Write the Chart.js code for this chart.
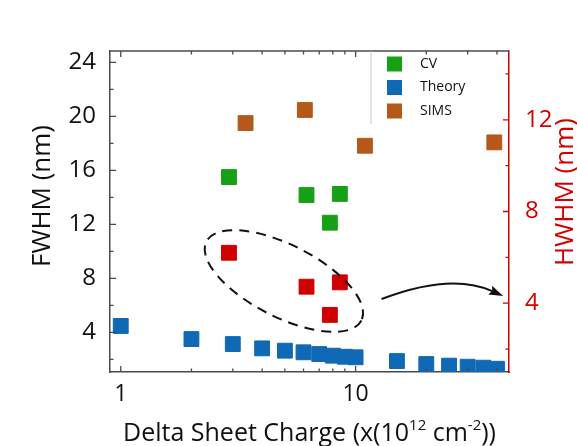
<!DOCTYPE html>
<html>
<head>
<meta charset="utf-8">
<script src="https://cdn.jsdelivr.net/npm/chart.js@4.4.1/dist/chart.umd.min.js"></script>
<style>
html, body { margin: 0; padding: 0; background: #fff; }
</style>
</head>
<body>
<canvas id="chart" width="577" height="446"></canvas>
<script>
// Delta sheet charge (x10^12 cm^-2) and widths (nm)
const theoryCharge = [1, 2, 3, 4, 5, 6, 7, 8, 9, 10, 15, 20, 25, 30, 35, 40];
const theoryFwhm = [4.47, 3.5, 3.13, 2.81, 2.64, 2.52, 2.39, 2.27, 2.19, 2.15, 1.87, 1.65, 1.53, 1.45, 1.38, 1.30];
const cvCharge = [2.89, 6.18, 8.57, 7.77];
const cvFwhm = [15.5, 14.17, 14.25, 12.12];
const cvHwhm = [6.2, 4.72, 4.91, 3.49];
const simsCharge = [3.40, 6.08, 10.96, 38.96];
const simsFwhm = [19.5, 20.47, 17.82, 18.07];

// tick labels
const xTickLabels = [1, 10];
const xMinorTicks = [2, 3, 4, 5, 6, 7, 8, 9, 20, 30, 40];
const fwhmTicks = [4, 8, 12, 16, 20, 24];
const hwhmTicks = [4, 8, 12];

const FONT = "'Open Sans', 'DejaVu Sans', sans-serif";
const AXIS_RED = '#d40000';
const AXIS_GREY = '#4a4a4a';

function toPoints(xs, ys) {
    return xs.map((x, i) => ({ x: x, y: ys[i] }));
}

// draws the inward ticks, the top frame line, titles, legend and the annotation
const decorPlugin = {
    id: 'decor',
    afterDatasetsDraw(chart) {
        const ctx = chart.ctx;
        const area = chart.chartArea;
        const x = chart.scales.x;
        const y = chart.scales.y;
        const y2 = chart.scales.y2;

        ctx.save();

        // dashed ellipse around the HWHM points
        const cx = x.getPixelForValue(4.95);
        const cy = y.getPixelForValue(7.8);
        ctx.beginPath();
        ctx.setLineDash([10, 7]);
        ctx.lineWidth = 2;
        ctx.strokeStyle = '#111';
        ctx.ellipse(cx, cy, 87, 36, 27 * Math.PI / 180, 0, Math.PI * 2);
        ctx.stroke();
        ctx.setLineDash([]);

        // curved arrow pointing at the HWHM axis
        const p0 = [x.getPixelForValue(12.9), y.getPixelForValue(6.47)];
        const c = [x.getPixelForValue(25.5), y.getPixelForValue(8.43)];
        const p2 = [x.getPixelForValue(42.5), y.getPixelForValue(6.69)];
        const ang = Math.atan2(p2[1] - c[1], p2[0] - c[0]);
        const headLen = 15;
        const base = [p2[0] - headLen * 0.8 * Math.cos(ang), p2[1] - headLen * 0.8 * Math.sin(ang)];
        ctx.beginPath();
        ctx.moveTo(p0[0], p0[1]);
        ctx.quadraticCurveTo(c[0], c[1], base[0], base[1]);
        ctx.lineWidth = 2;
        ctx.strokeStyle = '#111';
        ctx.stroke();
        ctx.beginPath();
        ctx.moveTo(p2[0], p2[1]);
        ctx.lineTo(p2[0] - headLen * Math.cos(ang - 0.32), p2[1] - headLen * Math.sin(ang - 0.32));
        ctx.lineTo(base[0], base[1]);
        ctx.lineTo(p2[0] - headLen * Math.cos(ang + 0.32), p2[1] - headLen * Math.sin(ang + 0.32));
        ctx.closePath();
        ctx.fillStyle = '#111';
        ctx.fill();

        // top frame line
        ctx.beginPath();
        ctx.lineWidth = 1.5;
        ctx.strokeStyle = AXIS_GREY;
        ctx.moveTo(area.left, area.top);
        ctx.lineTo(area.right, area.top);
        ctx.stroke();

        // inward tick marks
        const major = 6, minor = 3.5;
        ctx.lineWidth = 1.3;
        ctx.strokeStyle = AXIS_GREY;
        ctx.beginPath();
        xTickLabels.concat(xMinorTicks).forEach(v => {
            const len = xTickLabels.includes(v) ? major : minor;
            const px = x.getPixelForValue(v);
            ctx.moveTo(px, area.bottom);
            ctx.lineTo(px, area.bottom - len);
            ctx.moveTo(px, area.top);
            ctx.lineTo(px, area.top + len);
        });
        fwhmTicks.forEach(v => {
            [v, v - 2].forEach((t, k) => {
                const py = y.getPixelForValue(t);
                ctx.moveTo(area.left, py);
                ctx.lineTo(area.left + (k === 0 ? major : minor), py);
            });
        });
        ctx.stroke();

        ctx.strokeStyle = AXIS_RED;
        ctx.beginPath();
        hwhmTicks.concat([14]).forEach(v => {
            [v, v - 2].forEach((t, k) => {
                if (t > y2.max) return;
                const py = y2.getPixelForValue(t);
                const len = (k === 0 && hwhmTicks.includes(t)) ? major : minor;
                ctx.moveTo(area.right, py);
                ctx.lineTo(area.right - len, py);
            });
        });
        ctx.stroke();

        // axis titles
        ctx.fillStyle = '#111';
        ctx.textBaseline = 'middle';
        ctx.textAlign = 'center';
        ctx.font = '26px ' + FONT;
        ctx.save();
        ctx.translate(43, 196);
        ctx.rotate(-Math.PI / 2);
        ctx.fillText('FWHM (nm)', 0, 0);
        ctx.restore();

        ctx.fillStyle = AXIS_RED;
        ctx.save();
        ctx.translate(566, 192);
        ctx.rotate(-Math.PI / 2);
        ctx.fillText('HWHM (nm)', 0, 0);
        ctx.restore();

        // x title with superscripts
        const parts = [
            ['Delta Sheet Charge (x(10', false],
            ['12', true],
            [' cm', false],
            ['-2', true],
            ['))', false]
        ];
        const bigFont = '25px ' + FONT;
        const supFont = '15px ' + FONT;
        let total = 0;
        parts.forEach(p => {
            ctx.font = p[1] ? supFont : bigFont;
            total += ctx.measureText(p[0]).width;
        });
        let tx = (area.left + area.right) / 2 - total / 2;
        const baseY = 441;
        ctx.fillStyle = '#111';
        ctx.textAlign = 'left';
        ctx.textBaseline = 'alphabetic';
        parts.forEach(p => {
            ctx.font = p[1] ? supFont : bigFont;
            ctx.fillText(p[0], tx, p[1] ? baseY - 11 : baseY);
            tx += ctx.measureText(p[0]).width;
        });

        // legend in the top right corner
        ctx.beginPath();
        ctx.lineWidth = 1;
        ctx.strokeStyle = '#c8c8c8';
        ctx.moveTo(371, area.top);
        ctx.lineTo(371, area.top + 73);
        ctx.stroke();
        ctx.font = '14px ' + FONT;
        ctx.textBaseline = 'middle';
        chart.data.datasets.filter(d => d.label).forEach((d, i) => {
            const ly = 64 + i * 23.5;
            ctx.fillStyle = d.backgroundColor;
            ctx.fillRect(387, ly - 7.5, 15, 15);
            ctx.fillStyle = '#111';
            ctx.fillText(d.label, 420, ly);
        });

        ctx.restore();
    }
};

const ctx = document.getElementById('chart');

new Chart(ctx, {
    type: 'scatter',
    data: {
        datasets: [
            { label: 'CV', data: toPoints(cvCharge, cvFwhm), backgroundColor: '#16a016', borderColor: '#16a016', yAxisID: 'y' },
            { label: 'Theory', data: toPoints(theoryCharge, theoryFwhm), backgroundColor: '#1069b4', borderColor: '#1069b4', yAxisID: 'y' },
            { label: 'SIMS', data: toPoints(simsCharge, simsFwhm), backgroundColor: '#b5591a', borderColor: '#b5591a', yAxisID: 'y' },
            { label: '', data: toPoints(cvCharge, cvHwhm), backgroundColor: '#d00000', borderColor: '#d00000', yAxisID: 'y2' }
        ]
    },
    options: {
        responsive: false,
        animation: false,
        devicePixelRatio: 1,
        layout: { padding: { top: 51, left: 0, right: 0, bottom: 0 } },
        elements: {
            point: { pointStyle: 'rect', radius: 10.5, hoverRadius: 10.5, borderWidth: 1 }
        },
        plugins: {
            legend: { display: false },
            tooltip: { enabled: false }
        },
        scales: {
            x: {
                type: 'logarithmic',
                position: 'bottom',
                min: 0.9,
                max: 45,
                afterBuildTicks: scale => {
                    scale.ticks = xTickLabels.concat(xMinorTicks).sort((a, b) => a - b).map(v => ({ value: v }));
                },
                afterFit: scale => { scale.height = 74; },
                grid: { display: false },
                border: { display: true, color: AXIS_GREY, width: 1.5 },
                ticks: {
                    autoSkip: false,
                    maxRotation: 0,
                    padding: 1,
                    color: '#111',
                    font: { family: FONT, size: 23 },
                    callback: value => xTickLabels.includes(value) ? String(value) : ''
                }
            },
            y: {
                position: 'left',
                min: 1.06,
                max: 24.84,
                afterBuildTicks: scale => {
                    scale.ticks = fwhmTicks.map(v => ({ value: v }));
                },
                afterFit: scale => { scale.width = 110; },
                grid: { display: false },
                border: { display: true, color: AXIS_GREY, width: 1.5 },
                ticks: {
                    padding: 6,
                    color: '#111',
                    font: { family: FONT, size: 24 }
                }
            },
            y2: {
                position: 'right',
                min: 1,
                max: 15,
                afterBuildTicks: scale => {
                    scale.ticks = hwhmTicks.map(v => ({ value: v }));
                },
                afterFit: scale => { scale.width = 68; },
                grid: { display: false },
                border: { display: true, color: AXIS_RED, width: 1.5 },
                ticks: {
                    padding: 8,
                    color: AXIS_RED,
                    font: { family: FONT, size: 24 }
                }
            }
        }
    },
    plugins: [decorPlugin]
});
</script>
</body>
</html>
